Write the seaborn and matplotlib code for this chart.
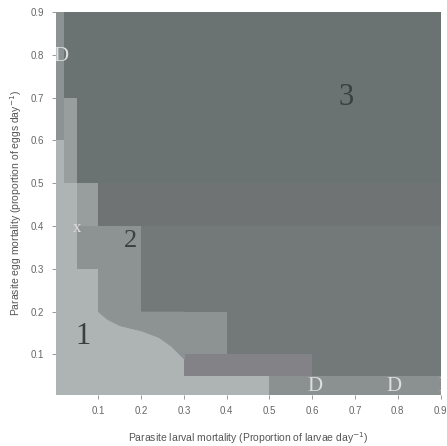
import numpy as np
import pandas as pd
import matplotlib
matplotlib.use("Agg")
import matplotlib.pyplot as plt
from matplotlib.colors import ListedColormap
import seaborn as sns

# ---------------- data ----------------
RES = 0.01  # parameter-grid step
larval_ticks = [0.1, 0.2, 0.3, 0.4, 0.5, 0.6, 0.7, 0.8, 0.9]
egg_ticks = [0.1, 0.2, 0.3, 0.4, 0.5, 0.6, 0.7, 0.8, 0.9]
tick_labels = ["0.1", "0.2", "0.3", "0.4", "0.5", "0.6", "0.7", "0.8", "0.9"]

shade_colors = ["#aeb4b4", "#989e9e", "#8d9393", "#838286",
                "#8b9191", "#737979", "#6f7374", "#6b7272"]

# rectangular blocks of outcome (painted in order)
rect_larval_lo = [0.00, 0.10, 0.20, 0.00, 0.02, 0.05, 0.05, 0.10, 0.10, 0.30, 0.50, 0.00, 0.02, 0.05, 0.10]
rect_larval_hi = [0.90, 0.90, 0.90, 0.02, 0.05, 0.10, 0.10, 0.20, 0.40, 0.60, 0.90, 0.02, 0.05, 0.10, 0.50]
rect_egg_lo    = [0.00, 0.40, 0.05, 0.60, 0.50, 0.40, 0.30, 0.20, 0.05, 0.05, 0.00, 0.00, 0.00, 0.00, 0.00]
rect_egg_hi    = [0.90, 0.50, 0.40, 0.90, 0.70, 0.50, 0.40, 0.40, 0.20, 0.10, 0.05, 0.60, 0.50, 0.30, 0.05]
rect_shade     = [7,    6,    5,    2,    1,    1,    2,    2,    2,    3,    4,    0,    0,    0,    0]
# region 1 under the curved edge
rect2_larval_lo, rect2_larval_hi, rect2_egg_lo, rect2_egg_hi, rect2_shade = 0.10, 0.30, 0.00, 0.20, 0

# curved edge of region 1 (region 2 lies above it, up to egg mortality 0.2)
curve_larval = [0.10, 0.12, 0.15, 0.20, 0.24, 0.27, 0.29, 0.30]
curve_egg    = [0.20, 0.183, 0.168, 0.156, 0.141, 0.12, 0.10, 0.09]
curve_top = 0.20

region_labels = ["1", "2", "3"]
region_label_x = [0.063, 0.174, 0.679]
region_label_y = [0.141, 0.364, 0.700]
region_label_size = [22, 19, 22]

marker_text = ["D", "D", "D", "D", "x"]
marker_x = [0.012, 0.607, 0.790, 0.912, 0.050]
marker_y = [0.797, 0.024, 0.024, 0.024, 0.396]
marker_size = [15, 15, 15, 15, 12]

# ---------------- build grid ----------------
n = int(round(0.9 / RES))
grid = np.zeros((n, n))
rects = list(zip(rect_larval_lo, rect_larval_hi, rect_egg_lo, rect_egg_hi, rect_shade))
rects.append((rect2_larval_lo, rect2_larval_hi, rect2_egg_lo, rect2_egg_hi, rect2_shade))
for x0, x1, y0, y1, s in rects:
    grid[int(round(y0 / RES)):int(round(y1 / RES)), int(round(x0 / RES)):int(round(x1 / RES))] = s
df = pd.DataFrame(grid, index=np.round(np.arange(n) * RES, 2), columns=np.round(np.arange(n) * RES, 2))

# ---------------- plot ----------------
sns.set_theme(style="white")
plt.rcParams["font.family"] = ["Liberation Sans", "DejaVu Sans"]

fig = plt.figure(figsize=(4.47, 4.46), dpi=100)
ax = fig.add_axes([0.1244, 0.1143, 0.8612, 0.8588])

sns.heatmap(df, ax=ax, cmap=ListedColormap(shade_colors), vmin=-0.5,
            vmax=len(shade_colors) - 0.5, cbar=False,
            xticklabels=False, yticklabels=False)

ax.fill_between(np.array(curve_larval) / RES, np.array(curve_egg) / RES, curve_top / RES,
                facecolor=shade_colors[2], edgecolor=shade_colors[2], linewidth=0.6)

ax.set_xlim(0, n)
ax.set_ylim(0.5, n)

for t, x, y, s in zip(region_labels, region_label_x, region_label_y, region_label_size):
    ax.text(x / RES, y / RES, t, fontsize=s, family="Liberation Serif",
            color="#3a3f3f", ha="center", va="center")
for t, x, y, s in zip(marker_text, marker_x, marker_y, marker_size):
    ax.text(x / RES, y / RES, t, fontsize=s, family="Liberation Serif",
            color="#dedede", ha="center", va="center", clip_on=True)

ax.set_xticks(np.array(larval_ticks) / RES)
ax.set_xticklabels(tick_labels, rotation=0)
ax.set_yticks(np.array(egg_ticks) / RES)
ax.set_yticklabels(tick_labels, rotation=0)
ax.tick_params(axis="both", which="both", length=3, width=0.6, color="#888888",
               labelsize=7, labelcolor="#666666", pad=5,
               bottom=True, left=True)
for sp in ax.spines.values():
    sp.set_visible(False)

ax.set_xlabel("Parasite larval mortality (Proportion of larvae day$^{-1}$)",
              fontsize=7.5, color="#555555", labelpad=10)
ax.set_ylabel("Parasite egg mortality (proportion of eggs day$^{-1}$)",
              fontsize=7.5, color="#555555", labelpad=5)

fig.savefig("out.png", dpi=100)
